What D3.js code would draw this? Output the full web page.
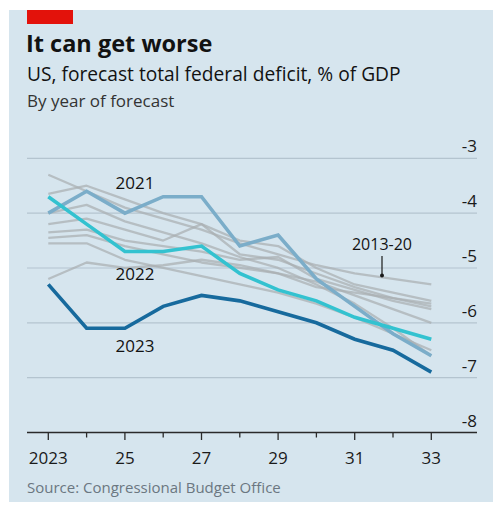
<!DOCTYPE html>
<html>
<head>
<meta charset="utf-8">
<script src="https://cdn.jsdelivr.net/npm/d3@7"></script>
<style>
  html, body { margin: 0; padding: 0; background: #ffffff; }
  svg { display: block; }
  text { font-family: "Open Sans", Lato, sans-serif; }
</style>
</head>
<body>
<svg id="chart" width="493" height="506"></svg>
<script>
// Forecast years on the x axis
const years = [2023, 2024, 2025, 2026, 2027, 2028, 2029, 2030, 2031, 2032, 2033];

// CBO forecasts of the federal deficit, % of GDP (negative = deficit)
const forecast2021 = [-4.0, -3.6, -4.0, -3.7, -3.7, -4.6, -4.4, -5.2, -5.7, -6.2, -6.6];
const forecast2022 = [-3.7, -4.2, -4.7, -4.7, -4.6, -5.1, -5.4, -5.6, -5.9, -6.1, -6.3];
const forecast2023 = [-5.3, -6.1, -6.1, -5.7, -5.5, -5.6, -5.8, -6.0, -6.3, -6.5, -6.9];

// Earlier forecasts, 2013-20, drawn as a grey bundle
const older1 = [-3.3, -3.6, -3.9, -4.1, -4.3, -4.55, -4.75, -4.95, -5.1, -5.2, -5.3];
const older2 = [-3.65, -3.5, -3.75, -4.0, -4.2, -4.5, -4.6, -5.0, -5.3, -5.45, -5.6];
const older3 = [-4.2, -4.1, -4.3, -4.5, -4.2, -4.75, -4.85, -5.1, -5.35, -5.55, -5.7];
const older4 = [-4.35, -4.3, -4.5, -4.6, -4.7, -4.85, -4.8, -5.2, -5.4, -5.6, -5.75];
const older5 = [-4.45, -4.4, -4.6, -4.75, -4.9, -5.0, -5.1, -5.25, -5.5, -5.75, -6.0];
const older6 = [-4.55, -4.55, -4.85, -5.0, -5.15, -5.3, -5.45, -5.65, -5.9, -6.2, -6.5];
const older7 = [-5.2, -4.9, -5.0, -4.95, -4.85, -4.95, -5.1, -5.35, -5.45, -5.55, -5.65];
const older8 = [-4.0, -3.85, -4.15, -4.35, -4.55, -4.8, -5.0, -5.3, -5.65, -6.1, -6.6];
const olderSeries = [older1, older2, older3, older4, older5, older6, older7, older8];

// Axis tick values and labels
const yTicks = [-3, -4, -5, -6, -7, -8];
const xLabelYears = [2023, 2025, 2027, 2029, 2031, 2033];
const xTickLabels = ["2023", "25", "27", "29", "31", "33"];

const svg = d3.select("#chart");
const W = 493;

// Panel background and red tag
svg.append("rect").attr("x", 9).attr("y", 10).attr("width", W - 9).attr("height", 492)
  .attr("fill", "#d6e5ee");
svg.append("rect").attr("x", 27).attr("y", 10).attr("width", 46).attr("height", 14)
  .attr("fill", "#e3120b");

// Headings
svg.append("text").attr("x", 26).attr("y", 52)
  .attr("font-size", 23.5).attr("font-weight", 700).attr("fill", "#121212")
  .text("It can get worse");
svg.append("text").attr("x", 27).attr("y", 81)
  .attr("font-size", 19.2).attr("fill", "#121212")
  .text("US, forecast total federal deficit, % of GDP");
svg.append("text").attr("x", 27).attr("y", 107)
  .attr("font-size", 17).attr("fill", "#333")
  .text("By year of forecast");

// Scales
const x = d3.scaleLinear().domain([2023, 2033]).range([48.3, 431.3]);
const y = d3.scaleLinear().domain([-3, -8]).range([158.3, 432.5]);
const left = 27, right = 477;

// Horizontal gridlines
svg.append("g").selectAll("line").data(yTicks.filter(d => d !== -8)).join("line")
  .attr("x1", left).attr("x2", right)
  .attr("y1", d => y(d)).attr("y2", d => y(d))
  .attr("stroke", "#b4c4cf").attr("stroke-width", 1.2);

// Y tick labels, sitting above each gridline on the right
svg.append("g").selectAll("text").data(yTicks).join("text")
  .attr("x", right).attr("y", d => y(d) - 6)
  .attr("text-anchor", "end")
  .attr("font-size", 17).attr("fill", "#1a1a1a")
  .text(d => String(d));

// Line generator
const line = d3.line().x((d, i) => x(years[i])).y(d => y(d));

// Grey bundle of older forecasts
svg.append("g").selectAll("path").data(olderSeries).join("path")
  .attr("d", line)
  .attr("fill", "none")
  .attr("stroke", "#a9aeb2").attr("stroke-opacity", 0.72)
  .attr("stroke-width", 2.3).attr("stroke-linejoin", "round");

// Highlighted forecasts
const highlighted = [
  { values: forecast2021, color: "#7badc9" },
  { values: forecast2022, color: "#33c2d0" },
  { values: forecast2023, color: "#176a9d" }
];
svg.append("g").selectAll("path").data(highlighted).join("path")
  .attr("d", d => line(d.values))
  .attr("fill", "none")
  .attr("stroke", d => d.color)
  .attr("stroke-width", 3.6).attr("stroke-linejoin", "miter");

// X axis
const xAxis = svg.append("g");
xAxis.append("line").attr("x1", left).attr("x2", right)
  .attr("y1", y(-8)).attr("y2", y(-8))
  .attr("stroke", "#2a2a2a").attr("stroke-width", 1.5);
xAxis.selectAll("line.tick").data(years).join("line")
  .attr("class", "tick")
  .attr("x1", d => x(d)).attr("x2", d => x(d))
  .attr("y1", y(-8)).attr("y2", d => y(-8) + (xLabelYears.includes(d) ? 7.5 : 5))
  .attr("stroke", "#2a2a2a").attr("stroke-width", 1.3);
xAxis.selectAll("text").data(xLabelYears).join("text")
  .attr("x", d => x(d)).attr("y", 464)
  .attr("text-anchor", "middle")
  .attr("font-size", 17).attr("fill", "#1a1a1a")
  .text((d, i) => xTickLabels[i]);

// Series labels
const labelStyle = sel => sel.attr("font-size", 17).attr("fill", "#121212").attr("text-anchor", "middle");
svg.append("text").attr("x", 135).attr("y", 189).call(labelStyle).text("2021");
svg.append("text").attr("x", 135).attr("y", 280).call(labelStyle).text("2022");
svg.append("text").attr("x", 135).attr("y", 352).call(labelStyle).text("2023");

// 2013-20 label with pointer into the grey bundle
const pointerX = 382;
svg.append("text").attr("x", pointerX).attr("y", 250).call(labelStyle).attr("font-size", 16)
  .text("2013-20");
svg.append("line").attr("x1", pointerX).attr("x2", pointerX)
  .attr("y1", 256).attr("y2", 275)
  .attr("stroke", "#1a1a1a").attr("stroke-width", 1.2);
svg.append("circle").attr("cx", pointerX).attr("cy", 275.5).attr("r", 2).attr("fill", "#1a1a1a");

// Source note
svg.append("text").attr("x", 27).attr("y", 493)
  .attr("font-size", 15).attr("fill", "#6b7781")
  .text("Source: Congressional Budget Office");
</script>
</body>
</html>
